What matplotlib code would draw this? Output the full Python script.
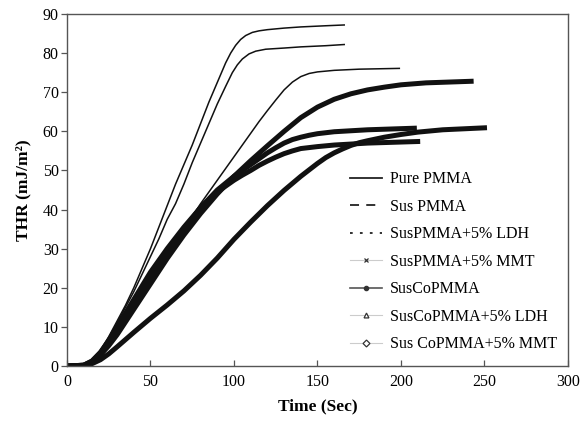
# total heat release curves, PMMA samples

import matplotlib
matplotlib.use("Agg")
import matplotlib.pyplot as plt
from matplotlib.lines import Line2D

plt.rcParams['font.family'] = ['Liberation Serif', 'DejaVu Serif']

## data (time in s, THR)
t_pure = [0, 10, 13, 16, 20, 25, 30, 35, 40, 45, 50, 55, 60, 65, 70, 75, 80, 85, 90, 95, 98, 101, 104, 107, 111, 115, 120, 130, 140, 155, 166]
thr_pure = [0, 0.3, 0.9, 2.0, 4, 7.5, 11.5, 15.5, 20, 25, 30, 35.5, 41, 46.5, 51.5, 56.5, 62, 67.5, 72.5, 77.5, 80, 82, 83.5, 84.5, 85.3, 85.7, 86, 86.4, 86.7, 87, 87.2]

t_sus = [0, 10, 13, 16, 20, 25, 30, 35, 40, 45, 50, 55, 60, 65, 70, 75, 80, 85, 90, 95, 99, 102, 105, 109, 113, 119, 130, 140, 155, 166]
thr_sus = [0, 0.3, 0.9, 2.0, 4, 7.2, 11, 15, 19, 23.5, 28, 32.5, 37.5, 41.5, 46.5, 52, 57, 62, 67, 71.5, 75, 77, 78.5, 79.8, 80.5, 81, 81.3, 81.6, 81.9, 82.2]

t_sus_ldh = [0, 10, 13, 16, 20, 25, 30, 40, 50, 60, 70, 80, 90, 100, 105, 110, 115, 120, 125, 130, 135, 140, 145, 150, 160, 175, 199]
thr_sus_ldh = [0, 0.2, 0.7, 1.7, 3, 5.8, 9, 16, 22, 28.5, 35, 41.5, 47.5, 53.5, 56.5, 59.5, 62.5, 65.3, 68, 70.6, 72.6, 74, 74.8, 75.2, 75.6, 75.9, 76.1]

t_sus_mmt = [0, 10, 15, 20, 25, 30, 40, 50, 60, 70, 80, 90, 100, 110, 120, 130, 140, 150, 160, 170, 180, 190, 200, 215, 242]
thr_sus_mmt = [0, 0.2, 1.0, 2.8, 5.2, 8, 14.5, 21, 27.5, 33.5, 39, 44, 48.5, 52.5, 56.3, 60, 63.5, 66.2, 68.2, 69.6, 70.6, 71.3, 71.9, 72.4, 72.8]

t_co = [0, 10, 15, 20, 25, 30, 40, 50, 60, 70, 80, 90, 100, 105, 110, 115, 120, 125, 130, 135, 140, 145, 150, 160, 180, 208]
thr_co = [0, 0.2, 1.2, 3.2, 6, 9, 16, 22.5, 29, 35, 40.5, 45, 48.5, 50, 51.5, 53, 54.5, 55.8, 57, 57.9, 58.5, 59, 59.4, 59.9, 60.4, 60.8]

t_co_ldh = [0, 10, 15, 20, 25, 30, 40, 50, 60, 70, 80, 90, 100, 105, 110, 115, 120, 125, 130, 135, 140, 150, 160, 180, 210]
thr_co_ldh = [0, 0.2, 1.3, 3.5, 6.5, 10, 17, 24, 30, 35.5, 40.5, 44.5, 47.5, 48.8, 50, 51.3, 52.4, 53.4, 54.3, 55, 55.6, 56.1, 56.5, 57, 57.4]

t_co_mmt = [0, 10, 15, 20, 25, 30, 40, 50, 60, 70, 80, 90, 100, 110, 120, 130, 140, 150, 155, 160, 165, 170, 175, 180, 190, 200, 210, 225, 250]
thr_co_mmt = [0, 0.1, 0.6, 1.6, 3.1, 4.9, 8.6, 12.2, 15.6, 19.2, 23.2, 27.6, 32.4, 36.8, 41, 44.9, 48.5, 51.8, 53.3, 54.5, 55.5, 56.4, 57.1, 57.6, 58.5, 59.2, 59.8, 60.4, 60.9]

labels = ['Pure PMMA', 'Sus PMMA', 'SusPMMA+5% LDH', 'SusPMMA+5% MMT',
          'SusCoPMMA', 'SusCoPMMA+5% LDH', 'Sus CoPMMA+5% MMT']

fig = plt.figure(figsize=(5.81, 4.21), dpi=100)
ax = fig.add_axes([0.1153, 0.1306, 0.8623, 0.8361])

## curves (the markers in the original are so dense they look like plain lines)
thin = 1.1
thick = 3.6
ax.plot(t_pure, thr_pure, color='#111111', lw=thin)
ax.plot(t_sus, thr_sus, color='#111111', lw=thin)
ax.plot(t_sus_ldh, thr_sus_ldh, color='#111111', lw=thin)
ax.plot(t_sus_mmt, thr_sus_mmt, color='#111111', lw=thick)
ax.plot(t_co, thr_co, color='#111111', lw=thick)
ax.plot(t_co_ldh, thr_co_ldh, color='#111111', lw=thick)
ax.plot(t_co_mmt, thr_co_mmt, color='#111111', lw=thick)

## legend handles as drawn in the key
handles = [
    Line2D([], [], color='#222222', lw=1.3, ls='-'),
    Line2D([], [], color='#222222', lw=1.3, ls=(0, (5, 4))),
    Line2D([], [], color='#222222', lw=1.3, ls=(0, (1.5, 4))),
    Line2D([], [], color='#cccccc', lw=0.8, marker='x', ms=3.5, mec='#333333', mew=0.9),
    Line2D([], [], color='#555555', lw=1.2, marker='o', ms=3, mfc='#333333', mec='#333333'),
    Line2D([], [], color='#cccccc', lw=0.8, marker='^', ms=3.5, mfc='white', mec='#333333', mew=0.9),
    Line2D([], [], color='#cccccc', lw=0.8, marker='D', ms=3.5, mfc='white', mec='#333333', mew=0.9),
]
ax.legend(handles, labels, loc='lower right', bbox_to_anchor=(1.005, 0.0), frameon=False,
          fontsize=11.5, handlelength=2.0, handletextpad=0.5, labelspacing=0.72,
          borderaxespad=0.45)

ax.set_xlim(0, 300)
ax.set_ylim(0, 90)
ax.set_xticks([0, 50, 100, 150, 200, 250, 300])
ax.set_yticks(range(0, 91, 10))
ax.tick_params(axis='x', direction='in', length=4, width=0.9, color='#555555', labelsize=11.5, pad=6)
ax.tick_params(axis='y', direction='out', length=4, width=0.9, color='#555555', labelsize=11.5, pad=2)
for s in ax.spines.values():
    s.set_color('#555555')
    s.set_linewidth(1.0)

ax.set_xlabel('Time (Sec)', fontsize=12.5, fontweight='bold', labelpad=6)
ax.set_ylabel('THR (mJ/m²)', fontsize=12.5, fontweight='bold', labelpad=8)

plt.savefig('out.png', dpi=100)
